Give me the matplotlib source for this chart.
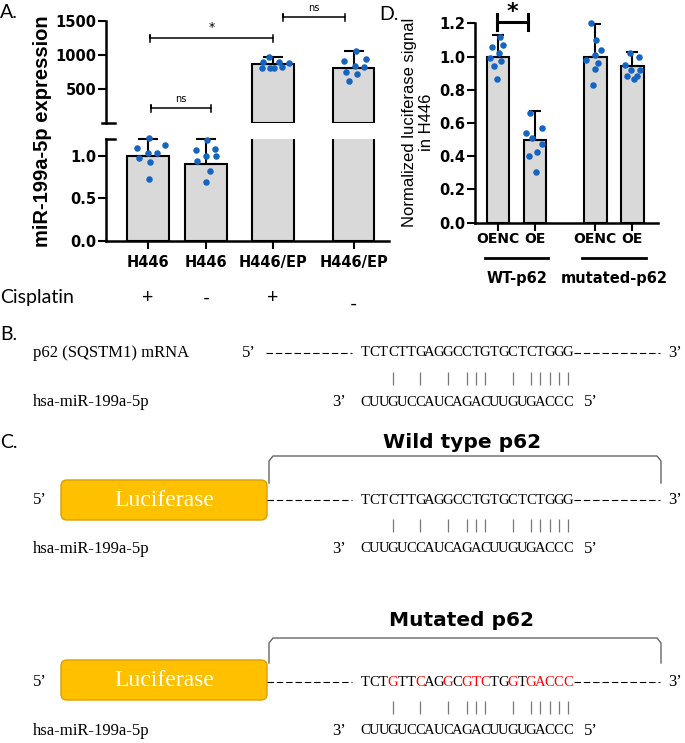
import numpy as np
import matplotlib
matplotlib.use("Agg")
import matplotlib.pyplot as plt
from matplotlib.patches import FancyBboxPatch

W, H = 685, 743

# ---- panel A: miR-199a-5p expression ----
a_cells = ["H446", "H446", "H446/EP", "H446/EP"]
a_cisplatin = ["+", "-", "+", "-"]
a_means = [1.0, 0.913, 865, 813]
a_err_top = [1.207, 1.207, 970, 1059]
a_h446_cis = [1.211, 1.100, 1.131, 1.032, 1.032, 0.976, 0.933, 0.726]
a_h446_nocis = [1.187, 1.068, 1.080, 1.005, 1.000, 0.949, 0.821, 0.690]
a_ep_cis = [966, 897, 893, 882, 813, 809, 804, 824]
a_ep_nocis = [1059, 912, 937, 838, 828, 755, 716, 618]

# ---- panel D: luciferase reporter ----
d_ticks = ["OENC", "OE", "OENC", "OE"]
d_groups = ["WT-p62", "mutated-p62"]
d_means = [1.0, 0.497, 1.0, 0.945]
d_err_top = [1.127, 0.673, 1.197, 1.026]
d_wt_oenc = [1.120, 1.057, 1.070, 1.024, 0.992, 0.974, 0.942, 0.867]
d_wt_oe = [0.659, 0.569, 0.539, 0.512, 0.474, 0.428, 0.402, 0.307]
d_mut_oenc = [1.201, 1.101, 1.040, 1.010, 0.980, 0.960, 0.924, 0.830]
d_mut_oe = [1.020, 1.000, 0.950, 0.916, 0.916, 0.880, 0.867, 0.882]

# ---- panels B / C: sequences ----
mrna_label = "p62 (SQSTM1) mRNA"
mirna_label = "hsa-miR-199a-5p"
wt_site = "TCTCTTGAGGCCTGTGCTCTGGG"
mut_site = "TCTGTTCAGGCGTCTGGTGACCC"
mirna_site = "CUUGUCCAUCAGACUUGUGACCC"   # written 3' -> 5'
mut_red = [3, 6, 9, 11, 12, 13, 16, 18, 19, 20, 21, 22]

# horizontal jitter of the dots, in pixels
a_jit = [[0.7, -10.6, 17, 0, 9.4, -9, 2, 0.7],
         [1, -10.3, 8.7, 0.3, 9.7, -8.7, 4.3, -0.3],
         [-4.3, -9.7, 6, 15.7, -11.3, -3, 1, 8.7],
         [1.7, -9.7, 12, 1, 10.3, -8, 3.3, -5]]
d_jit = [[2, -6, 5, 1, -8, 3, -4, -1],
         [-5, 6.7, -9, -3.3, 6.7, 1.7, -5.7, 1],
         [-4, 0.5, 5.5, 0, -9, 3, 0, -2],
         [-2.5, 7, -7, -1, 8, -5, 1.5, 5]]

BAR = "#d9d9d9"
DOT = "#1565c0"
SANS = "DejaVu Sans"
CAL = "Lato"
SERIF = "Liberation Serif"


def px_rect(x0, y0, x1, y1):
    return [x0 / W, 1 - y1 / H, (x1 - x0) / W, (y1 - y0) / H]


fig = plt.figure(figsize=(W / 100, H / 100), dpi=100)
bg = fig.add_axes([0, 0, 1, 1])
bg.set_xlim(0, W)
bg.set_ylim(H, 0)
bg.axis("off")


def style_axis(ax, lw=1.8):
    for s in ["top", "right"]:
        ax.spines[s].set_visible(False)
    for s in ["left", "bottom"]:
        ax.spines[s].set_linewidth(lw)
    ax.tick_params(width=1.5, length=5.5, pad=1.5, labelsize=10.5)
    for lab in ax.get_yticklabels() + ax.get_xticklabels():
        lab.set_fontweight("bold")
    ax.set_facecolor("none")


# ================= panel A =================
a_x = np.array([0, 1, 2.155, 3.55])
a_pts = [a_h446_cis, a_h446_nocis, a_ep_cis, a_ep_nocis]
axU = fig.add_axes(px_rect(106, 21, 389, 122.7))
axL = fig.add_axes(px_rect(106, 139.3, 389, 240.7))
for ax in (axU, axL):
    ax.set_xlim(-0.724, 4.155)
axU.set_ylim(4, 1500)
axL.set_ylim(0, 1.2)

axL.bar(a_x, a_means, width=0.71, color=BAR, edgecolor="black", linewidth=1.5, zorder=2)
axU.bar(a_x[2:], a_means[2:], width=0.71, color=BAR, edgecolor="black", linewidth=1.5, zorder=2)
for i in range(4):
    ax = axL if i < 2 else axU
    ax.errorbar(a_x[i], a_means[i], yerr=[[0], [a_err_top[i] - a_means[i]]], fmt="none",
                ecolor="black", elinewidth=1.5, capsize=7.5, capthick=1.5, zorder=3, clip_on=False)
    ax.scatter(a_x[i] + np.array(a_jit[i]) / 58, a_pts[i], s=22, color=DOT,
               linewidths=0, zorder=4, clip_on=False)

axU.set_yticks([500, 1000, 1500])
axU.set_xticks([])
axU.spines["bottom"].set_visible(False)
axL.set_yticks([0, 0.5, 1.0])
axL.set_yticklabels(["0.0", "0.5", "1.0"])
axL.set_xticks(a_x)
axL.set_xticklabels(a_cells)
style_axis(axU)
style_axis(axL)
axL.tick_params(axis="x", pad=5)
# axis-break end marks
axU.plot([-0.015, 0.032], [0, 0], transform=axU.transAxes, color="black", lw=1.8, clip_on=False)
axL.plot([0, 0.032], [1, 1], transform=axL.transAxes, color="black", lw=1.8, clip_on=False)

# significance brackets
for x0, x1, y, lab, fs in [(0.05, 1.094, 216, "ns", 7), (0.03, 2.16, 1245, "*", 9),
                            (2.33, 3.40, 1554, "ns", 7)]:
    axU.plot([x0, x0, x0, x1, x1], [y - 55, y + 55, y, y, y - 55], color="black", lw=1.1,
             clip_on=False)
    axU.plot([x1, x1], [y, y + 55], color="black", lw=1.1, clip_on=False)
    axU.text((x0 + x1) / 2, y + 70, lab, ha="center", va="bottom", fontsize=fs, clip_on=False)

bg.text(43, 131, "miR-199a-5p expression", rotation=90, ha="center", va="center",
        fontsize=14.5, fontweight="bold", family="Liberation Sans")
bg.text(0, 298, "Cisplatin", ha="left", va="center", fontsize=14, family=CAL)
for i, sign in enumerate(a_cisplatin):
    yy = -0.565 if i < 3 else -0.63
    axL.text(a_x[i], yy, sign, transform=axL.get_xaxis_transform(), ha="center", va="center",
             fontsize=14, family=CAL)

# ================= panel D =================
d_x = np.array([0, 1, 2.63, 3.63])
d_pts = [d_wt_oenc, d_wt_oe, d_mut_oenc, d_mut_oe]
axD = fig.add_axes(px_rect(475, 23.3, 658, 222.7))
axD.set_xlim(-0.622, 4.324)
axD.set_ylim(0, 1.2)
axD.bar(d_x, d_means, width=0.61, color=BAR, edgecolor="black", linewidth=1.5, zorder=2)
for i in range(4):
    axD.errorbar(d_x[i], d_means[i], yerr=[[0], [d_err_top[i] - d_means[i]]], fmt="none",
                 ecolor="black", elinewidth=1.5, capsize=4.3, capthick=1.5, zorder=3, clip_on=False)
    axD.scatter(d_x[i] + np.array(d_jit[i]) / 37, d_pts[i], s=22, color=DOT,
                linewidths=0, zorder=4, clip_on=False)
axD.set_yticks(np.arange(0, 1.21, 0.2))
axD.set_yticklabels([f"{v:.1f}" for v in np.arange(0, 1.21, 0.2)])
axD.set_xticks(d_x)
axD.set_xticklabels(d_ticks)
style_axis(axD)
axD.tick_params(axis="x", labelsize=10)

xt = axD.get_xaxis_transform()
for g, name in enumerate(d_groups):
    c = (d_x[2 * g] + d_x[2 * g + 1]) / 2
    axD.plot([c - 0.86, c + 0.86], [-0.177, -0.177], transform=xt, color="black", lw=2,
             clip_on=False)
    axD.text(c, -0.278, name, transform=xt, ha="center", va="center", fontsize=10.5,
             fontweight="bold")
# significance
axD.plot([-0.035, 0.82], [1.207, 1.207], color="black", lw=2.2, clip_on=False)
for xx in (-0.035, 0.82):
    axD.plot([xx, xx], [1.157, 1.257], color="black", lw=2.2, clip_on=False)
axD.text(0.39, 1.265, "*", ha="center", va="center", fontsize=16, fontweight="bold")
bg.text(418, 122, "Normalized luciferase signal\nin H446", rotation=90, ha="center",
        va="center", fontsize=12, family="Liberation Sans", linespacing=1.15)

# panel letters
for x, y, t in [(0, 12, "A."), (379, 15, "D."), (0, 335, "B."), (0, 443, "C.")]:
    bg.text(x, y, t, ha="left", va="center", fontsize=14, family=CAL)

# ================= panels B / C =================
PITCH = 9.22
SEQ_X = 360.5
pairs = [i for i, (m, r) in enumerate(zip(wt_site, mirna_site))
         if (m, r) in {("C", "G"), ("G", "C"), ("A", "U"), ("T", "A")}]


def seq_row(x0, y, s, red=()):
    for i, ch in enumerate(s):
        bg.text(x0 + PITCH * (i + 0.5), y, ch, ha="center", va="center", fontsize=10.5,
                family=SERIF, color="#ff0000" if i in red else "black")


def dashes(x0, x1, y):
    bg.plot([x0, x1], [y, y], color="black", lw=0.8, dashes=(5.8, 2.6))


def label(x, y, s, **kw):
    bg.text(x, y, s, ha="left", va="center", fontsize=12, family=SERIF, **kw)


def site_block(y, site, left5, red=()):
    x_end = SEQ_X + PITCH * len(site)
    label(left5, y, "5\u2019")
    dashes(left5 + 24 if left5 > 100 else 267, 352, y)
    seq_row(SEQ_X, y, site, red)
    dashes(x_end + 1, 660, y)
    label(668, y, "3\u2019")
    bg.vlines([SEQ_X + PITCH * (i + 0.5) for i in pairs], y + 19, y + 32, color="#777777",
              lw=0.9)
    label(33, y + 49, mirna_label)
    label(332, y + 49, "3\u2019")
    seq_row(SEQ_X, y + 49, mirna_site)
    label(x_end + 11, y + 49, "5\u2019")


# B
label(33, 353, mrna_label)
site_block(353, wt_site, 242)


def luciferase(y0, y1, title, title_y, brk_top):
    bg.add_patch(FancyBboxPatch((61, y0), 206, y1 - y0, boxstyle="round,pad=0,rounding_size=6",
                                facecolor="#ffc000", edgecolor="#d9a000", lw=1))
    bg.text(164, (y0 + y1) / 2, "Luciferase", ha="center", va="center", color="white",
            fontsize=17, family=SERIF)
    bg.plot([269, 269, 273, 657, 661, 661], [y0 + 3, brk_top + 5, brk_top, brk_top,
                                             brk_top + 5, y0 + 3], color="#666666", lw=1)
    bg.text(462, title_y, title, ha="center", va="center", fontsize=14.5, fontweight="bold",
            family=SANS)


# C wild type
luciferase(480, 520, "Wild type p62", 442, 456)
site_block(500, wt_site, 33)
# C mutated
luciferase(660, 700, "Mutated p62", 620, 638)
site_block(682, mut_site, 33, red=mut_red)

fig.savefig("out.png", dpi=100)
